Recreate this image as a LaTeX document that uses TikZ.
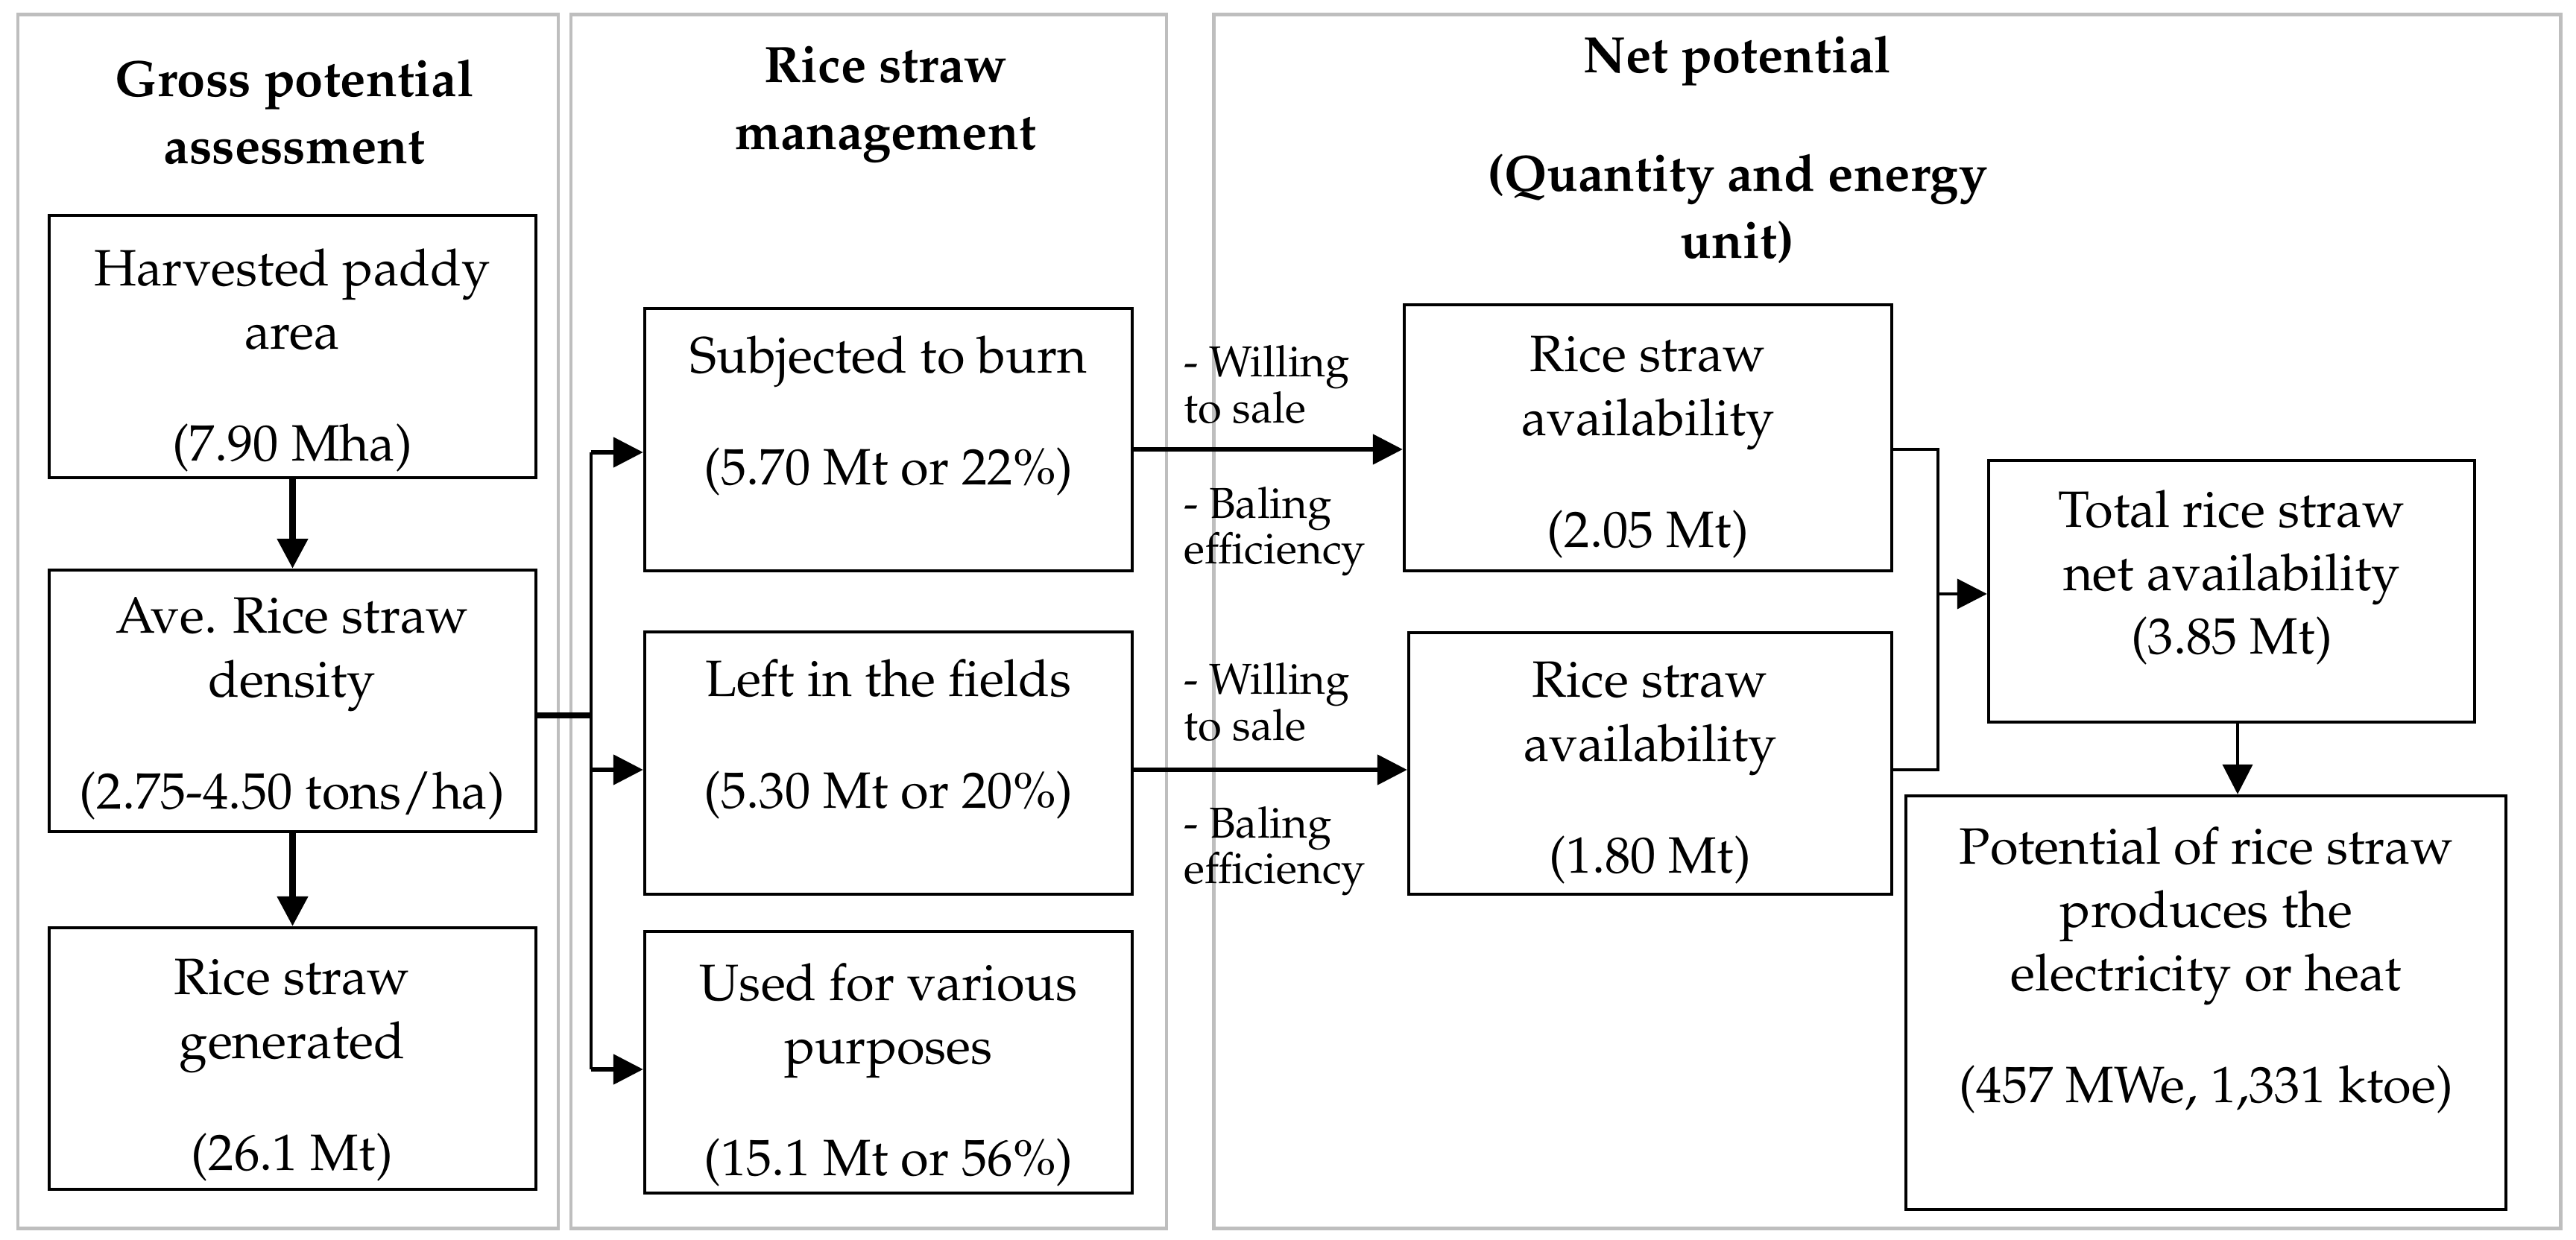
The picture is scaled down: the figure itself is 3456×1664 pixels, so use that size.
\documentclass[tikz,border=0pt]{standalone}
\usepackage[T1]{fontenc}
\usepackage{mathpazo}
\usetikzlibrary{arrows.meta}
\definecolor{panelgray}{RGB}{190,190,190}
\begin{document}
\begin{tikzpicture}[x=0.01cm,y=-0.01cm,
  panel/.style={draw=panelgray,line width=1.2pt,inner sep=0pt},
  box/.style={draw,line width=1.15pt,inner sep=0pt,minimum width=6.53cm,minimum height=3.51cm},
  txt/.style={align=center,inner sep=0pt,font=\fontsize{19.5}{24.2}\selectfont},
  ttl/.style={align=center,inner sep=0pt,font=\fontsize{19.5}{25.5}\selectfont\bfseries},
  lbl/.style={align=left,inner sep=0pt,anchor=west,font=\fontsize{16.5}{17.5}\selectfont},
  tip/.style={-{Triangle[length=0.4cm,width=0.4cm]}},
  fat/.style={line width=2.3pt},
  mid/.style={line width=1.5pt},
  thin/.style={line width=1.15pt}]
\useasboundingbox (0,0) rectangle (3456,1664);
\fill[white] (0,0) rectangle (3456,1664);
% panels
\node[panel,minimum width=7.25cm,minimum height=16.28cm] (p1) at (386.5,834) {};
\node[panel,minimum width=7.99cm,minimum height=16.28cm] (p2) at (1165.5,834) {};
\node[panel,minimum width=18.06cm,minimum height=16.28cm] (p3) at (2532,834) {};
% titles
\node[ttl] (t1) at (395,150) {Gross potential\\assessment};
\node[ttl] (t2) at (1188,140) {Rice straw\\management};
\node[ttl] (t3) at (2331,201) {Net potential\\[0.7cm](Quantity and energy\\unit)};
% boxes
\node[box] (harv) at (392.5,465) {};
\node[box] (ave) at (392.5,940.5) {};
\node[box] (gen) at (392.5,1420.5) {};
\node[box,minimum width=6.54cm] (burn) at (1192,590) {};
\node[box,minimum width=6.54cm] (left) at (1192,1024) {};
\node[box,minimum width=6.54cm] (used) at (1192,1425.5) {};
\node[box,minimum width=6.54cm,minimum height=3.56cm] (av1) at (2211,587.5) {};
\node[box,minimum width=6.48cm] (av2) at (2214,1024.5) {};
\node[box,minimum width=6.52cm] (tot) at (2994,793.5) {};
\node[box,minimum width=8.05cm,minimum height=5.55cm] (pot) at (2959.5,1345.5) {};
% box texts
\node[txt] (harvT) at (392,483) {Harvested paddy\\area\\[0.65cm](7.90 Mha)};
\node[txt] (aveT) at (392,951) {Ave. Rice straw\\density\\[0.65cm](2.75-4.50 tons/ha)};
\node[txt] (genT) at (392,1436) {Rice straw\\generated\\[0.65cm](26.1 Mt)};
\node[txt] (burnT) at (1192,558) {Subjected to burn\\[0.65cm](5.70 Mt or 22\%)};
\node[txt] (leftT) at (1192,992) {Left in the fields\\[0.65cm](5.30 Mt or 20\%)};
\node[txt] (usedT) at (1192,1442) {Used for various\\purposes\\[0.65cm](15.1 Mt or 56\%)};
\node[txt] (av1T) at (2211,600) {Rice straw\\availability\\[0.65cm](2.05 Mt)};
\node[txt] (av2T) at (2214,1037) {Rice straw\\availability\\[0.65cm](1.80 Mt)};
\node[txt] (totT) at (2994,775) {Total rice straw\\net availability\\(3.85 Mt)};
\node[txt] (potT) at (2960,1302) {Potential of rice straw\\produces the\\electricity or heat\\[0.65cm](457 MWe, 1,331 ktoe)};
% side labels
\node[lbl] (w1) at (1588,516) {- Willing\\to sale};
\node[lbl] (b1) at (1588,713) {- Baling\\efficiency};
\node[lbl] (w2) at (1588,942) {- Willing\\to sale};
\node[lbl] (b2) at (1588,1142) {- Baling\\efficiency};
% coordinates
\coordinate (bt) at (793,607);
\coordinate (bm) at (793,960);
\coordinate (bl) at (793,1033);
\coordinate (bb) at (793,1435);
\coordinate (r1) at (0,603);
\coordinate (r2) at (0,1033);
\coordinate (m1) at (2600,603);
\coordinate (m2) at (2600,1033);
\coordinate (m3) at (2600,797);
\coordinate (c1) at (3002,0);
% connectors panel 1
\draw[fat,tip] (harv.south) -- (ave.north);
\draw[fat,tip] (ave.south) -- (gen.north);
\draw[fat] (ave.east |- bm) -- (bm);
\draw[thin] (bt) -- (bb);
\draw[mid,tip] (bt) -- (bt -| burn.west);
\draw[mid,tip] (bl) -- (bl -| left.west);
\draw[mid,tip] (bb) -- (bb -| used.west);
% connectors to net potential
\draw[mid,tip] (burn.east |- r1) -- (av1.west |- r1);
\draw[mid,tip] (left.east |- r2) -- (av2.west |- r2);
\draw[thin] (av1.east |- r1) -- (m1) -- (m2) -- (av2.east |- r2);
\draw[thin,tip] (m3) -- (m3 -| tot.west);
\draw[thin,tip] (tot.south -| c1) -- (pot.north -| c1);
\end{tikzpicture}
\end{document}
